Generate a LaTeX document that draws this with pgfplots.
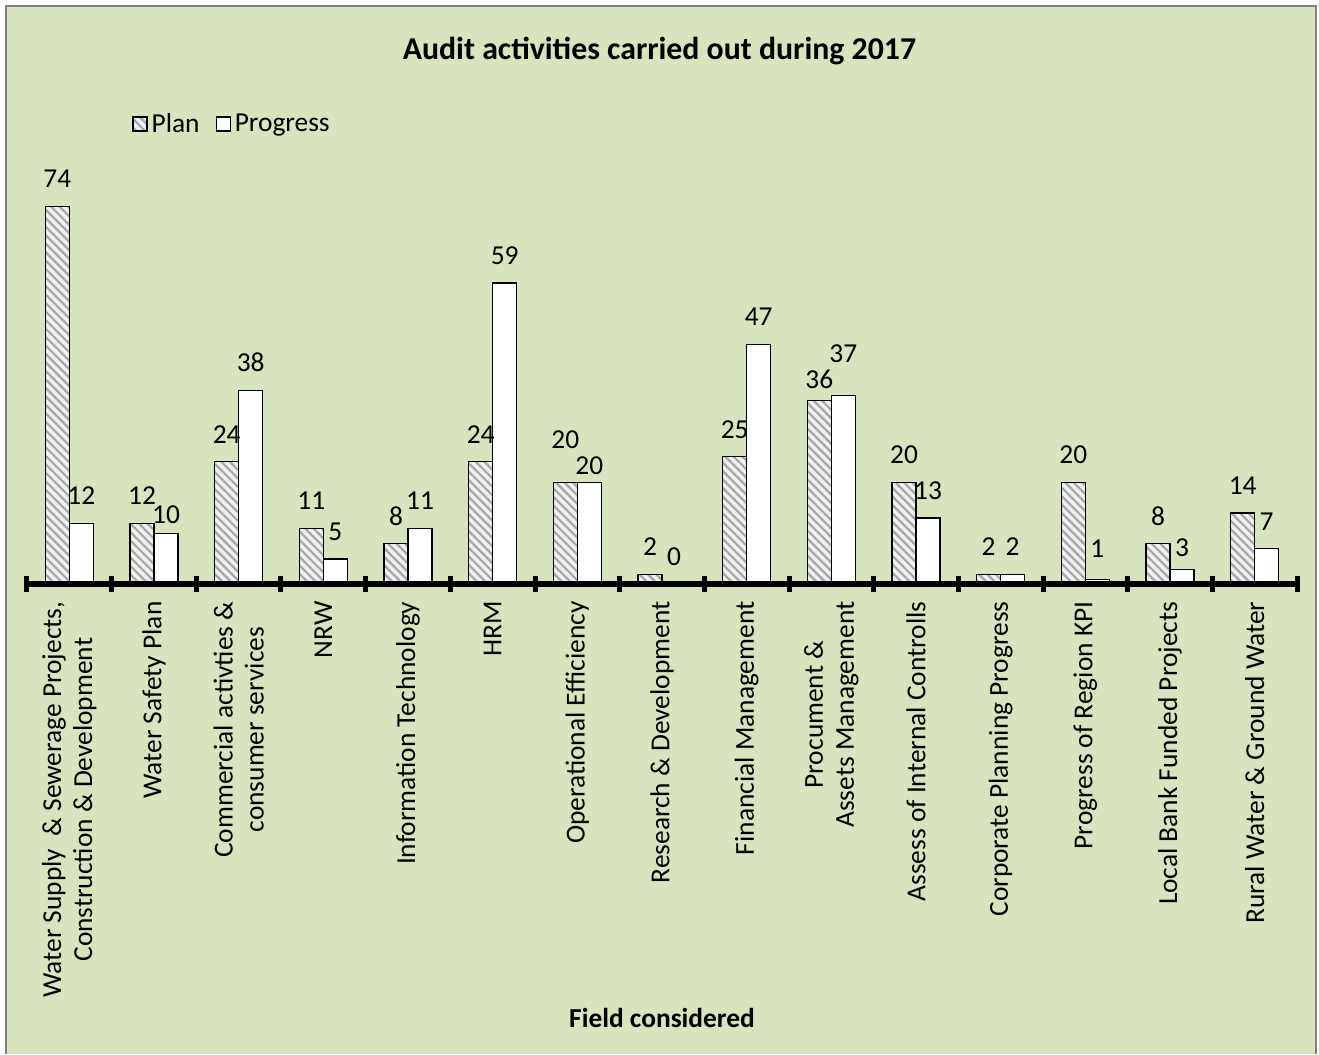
\documentclass[border=0pt]{standalone}
\usepackage{pgfplots}
\pgfplotsset{compat=1.18}
\usepackage{pgfplotstable}
\usepackage{fontspec}
\setmainfont{Carlito}
\usetikzlibrary{patterns.meta}
\definecolor{bgc}{HTML}{D7E4BD}
\pgfplotstableread{
x plan pdy prog gdy
0 74 9.25 12 9.25
1 12 9.25 10 4.75
2 24 9.25 38 9.25
3 11 9.25 5 9.25
4 8 9.25 11 9.25
5 24 9.25 59 9.25
6 20 17 20 4
7 2 9.25 0 9.25
8 25 9.25 47 9.25
9 36 6 37 16.25
10 20 9.25 13 9.25
11 2 9.25 2 9.25
12 20 9.25 1 11
13 8 9.25 3 6.25
14 14 9.25 7 9.25
}\datatable
\begin{document}
\begin{tikzpicture}
\fill[white] (0,0) rectangle (659.5pt,527pt);
\fill[bgc] (3pt,0) rectangle (658pt,524pt);
\draw[gray, line width=1pt] (3pt,0) -- (3pt,524pt) -- (658pt,524pt) -- (658pt,0);
\begin{axis}[
  at={(13.5pt,234.75pt)}, anchor=south west,
  scale only axis, width=635pt, height=204.4pt,
  xmin=-0.5, xmax=14.5, ymin=0, ymax=80,
  clip=false,
  /pgf/number format/assume math mode=true,
  axis y line=none,
  axis x line=bottom,
  x axis line style={-, line width=3pt, black},
  axis on top,
  ybar=0pt, bar width=12pt,
  xtick={0,...,14},
  major tick length=0pt,
  minor xtick={-0.5,0.5,...,14.5},
  minor tick length=8pt,
  tick align=center,
  minor tick style={line width=2.5pt, black},
  xticklabels={
    {Water Supply\ \ \& Sewerage Projects,\\Construction \& Development},
    {Water Safety Plan},
    {Commercial activties \&\\consumer services},
    {NRW},
    {Information Technology},
    {HRM},
    {Operational Efficiency},
    {Research \& Development},
    {Financial Management},
    {Procument \&\\Assets Management},
    {Assess of Internal Controlls},
    {Corporate Planning Progress},
    {Progress of Region KPI},
    {Local Bank Funded Projects},
    {Rural Water \& Ground Water}},
  xticklabel style={rotate=90, anchor=east, align=center,
    font=\fontsize{13.7}{15.5}\selectfont, xshift=-5pt},
  title={Audit activities carried out during 2017},
  title style={at={(axis description cs:0.498,1.2757)}, anchor=center, yshift=0pt,
    font=\bfseries\fontsize{15.9}{18}\selectfont},
  xlabel={Field considered},
  xlabel style={at={(axis description cs:0.5,-1.0604)}, anchor=center,
    font=\bfseries\fontsize{13.7}{16}\selectfont},
  nodes near coords,
  nodes near coords style={font=\fontsize{13.7}{16}\selectfont, black},
  legend style={draw=none, fill=none, at={(axis description cs:0.0827,1.1265)},
    anchor=west, legend columns=-1, font=\fontsize{13.7}{16}\selectfont,
    /tikz/every even column/.append style={column sep=6pt},
    inner sep=0pt},
  legend image code/.code={\draw[#1] (0pt,-3.5pt) rectangle (7pt,3.5pt);},
]
\addplot[draw=black, line width=0.6pt, fill=gray!12,
  postaction={pattern={Lines[angle=-45,distance=3pt,line width=1.1pt]}, pattern color=gray!70},
  visualization depends on={\thisrow{pdy} \as \dy},
  every node near coord/.append style={anchor=base, yshift=\dy pt}]
  table[x=x, y=plan] {\datatable};
\addplot[draw=black, line width=0.6pt, fill=white,
  visualization depends on={\thisrow{gdy} \as \dy},
  every node near coord/.append style={anchor=base, yshift=\dy pt}]
  table[x=x, y=prog] {\datatable};
\legend{Plan, Progress}
\end{axis}
\end{tikzpicture}
\end{document}
